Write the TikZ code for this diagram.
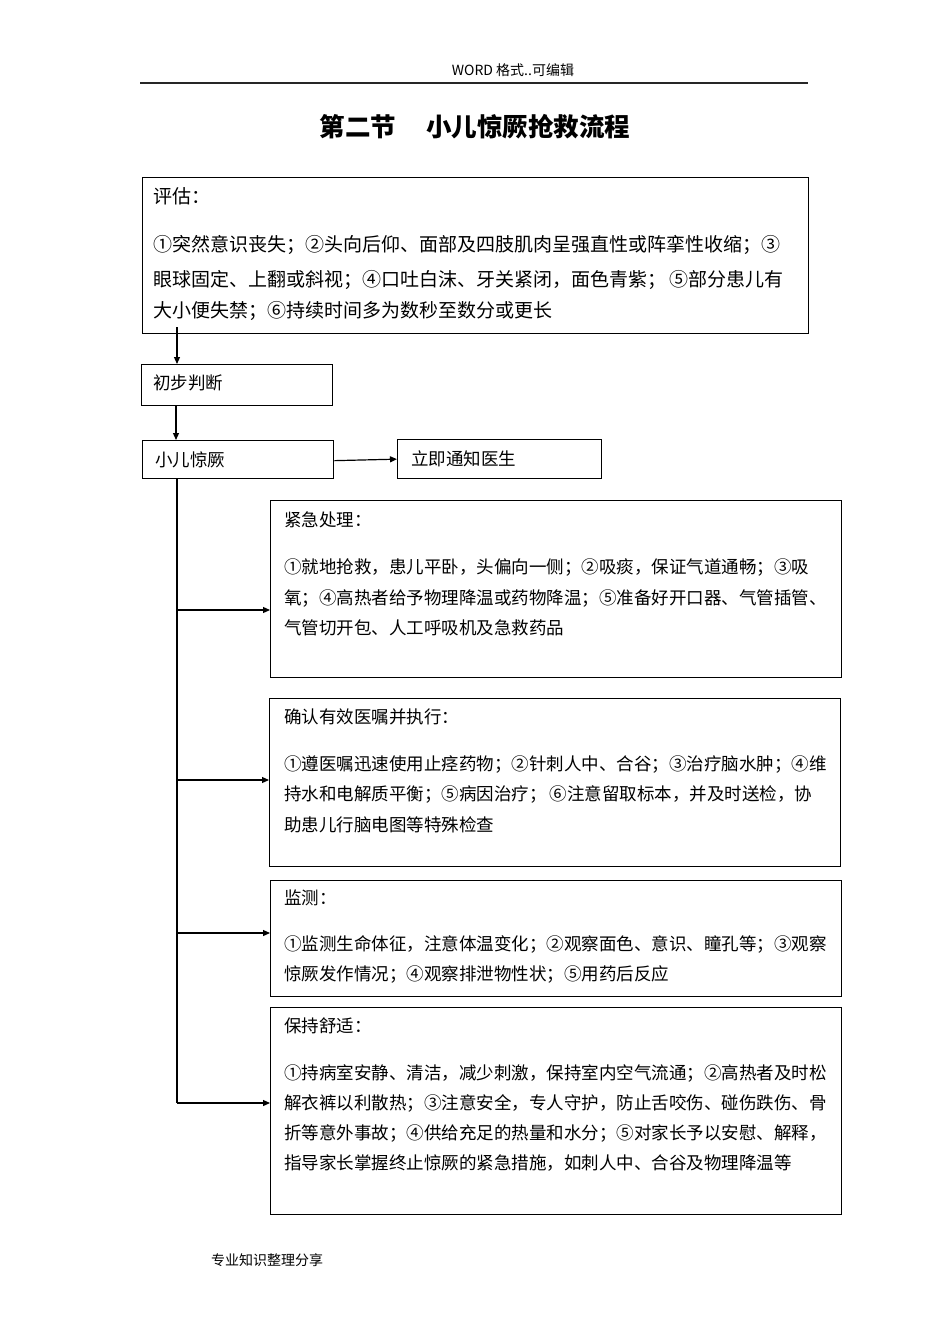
\documentclass[tikz,border=0pt]{standalone}
\usepackage{fontspec}
\setmainfont{Noto Sans CJK SC}
\usetikzlibrary{arrows.meta}
\tikzset{
  box/.style={draw=black, line width=1.3pt, inner sep=0pt, anchor=north west},
  txt/.style={anchor=west, inner sep=0pt, font=\fontsize{17.5}{20}\selectfont},
  bigtxt/.style={anchor=west, inner sep=0pt, font=\fontsize{19}{22}\selectfont},
  arr/.style={line width=1.2pt, -{Triangle[length=7pt,width=6pt]}},
  line/.style={line width=1.2pt}
}
\begin{document}
\begin{tikzpicture}[x=1pt,y=-1pt]
\useasboundingbox (0,0) rectangle (950,1344);
% header / footer
\node[inner sep=0pt, font=\fontsize{14}{16}\selectfont] (hdr) at (513,70) {WORD 格式..可编辑};
\coordinate (hl) at (140,83);
\coordinate (hr) at (808,83);
\draw[line width=1.8pt, black!85] (hl) -- (hr);
\node[inner sep=0pt, font=\fontsize{25.5}{28}\selectfont\bfseries] (title) at (475,127) {第二节\hspace{30pt}小儿惊厥抢救流程};
\node[inner sep=0pt, anchor=west, font=\fontsize{14}{16}\selectfont] (ftr) at (211,1260) {专业知识整理分享};

% boxes
\node[box, minimum width=666pt, minimum height=156pt] (assess) at (142,177) {};
\node[box, minimum width=191pt, minimum height=41pt] (judge) at (141,364) {};
\node[box, minimum width=191pt, minimum height=38pt] (seizure) at (142,440) {};
\node[box, minimum width=204pt, minimum height=39pt] (notify) at (397,439) {};
\node[box, minimum width=571pt, minimum height=177pt] (emerg) at (270,500) {};
\node[box, minimum width=571pt, minimum height=168pt] (orders) at (269,698) {};
\node[box, minimum width=571pt, minimum height=116pt] (monitor) at (270,880) {};
\node[box, minimum width=571pt, minimum height=207pt] (comfort) at (270,1007) {};

% texts: assessment
\node[bigtxt] (a0) at (153,196) {评估：};
\node[bigtxt] (a1) at (153,245) {①突然意识丧失；②头向后仰、面部及四肢肌肉呈强直性或阵挛性收缩；③};
\node[bigtxt] (a2) at (153,280) {眼球固定、上翻或斜视；④口吐白沫、牙关紧闭，面色青紫；\,⑤部分患儿有};
\node[bigtxt] (a3) at (153,311) {大小便失禁；⑥持续时间多为数秒至数分或更长};

\node[txt] (j0) at (153,383) {初步判断};
\node[txt] (s0) at (155,460) {小儿惊厥};
\node[txt] (n0) at (411,459) {立即通知医生};

% emergency
\node[txt] (e0) at (284,520) {紧急处理：};
\node[txt] (e1) at (284,567) {①就地抢救，患儿平卧，头偏向一侧；②吸痰，保证气道通畅；③吸};
\node[txt] (e2) at (284,598) {氧；④高热者给予物理降温或药物降温；⑤准备好开口器、气管插管、};
\node[txt] (e3) at (284,628) {气管切开包、人工呼吸机及急救药品};

% orders
\node[txt] (o0) at (284,717) {确认有效医嘱并执行：};
\node[txt] (o1) at (284,764) {①遵医嘱迅速使用止痉药物；②针刺人中、合谷；③治疗脑水肿；④维};
\node[txt] (o2) at (284,794) {持水和电解质平衡；⑤病因治疗；\,⑥注意留取标本，并及时送检，协};
\node[txt] (o3) at (284,825) {助患儿行脑电图等特殊检查};

% monitor
\node[txt] (m0) at (284,898) {监测：};
\node[txt] (m1) at (284,944) {①监测生命体征，注意体温变化；②观察面色、意识、瞳孔等；③观察};
\node[txt] (m2) at (284,974) {惊厥发作情况；④观察排泄物性状；⑤用药后反应};

% comfort
\node[txt] (c0) at (284,1026) {保持舒适：};
\node[txt] (c1) at (284,1073) {①持病室安静、清洁，减少刺激，保持室内空气流通；②高热者及时松};
\node[txt] (c2) at (284,1103) {解衣裤以利散热；③注意安全，专人守护，防止舌咬伤、碰伤跌伤、骨};
\node[txt] (c3) at (284,1133) {折等意外事故；④供给充足的热量和水分；⑤对家长予以安慰、解释，};
\node[txt] (c4) at (284,1163) {指导家长掌握终止惊厥的紧急措施，如刺人中、合谷及物理降温等};

% connectors
\draw[arr] ([shift={(35,-7)}]assess.south west) -- ([xshift=36]judge.north west);
\draw[arr] ([xshift=35]judge.south west) -- ([xshift=34]seizure.north west);
\draw[arr] ([yshift=-1]seizure.east) -- (notify.west);
\coordinate (t1) at (177,610);
\coordinate (t2) at (177,780);
\coordinate (t3) at (177,933);
\coordinate (t4) at (177,1103);
\draw[line] ([xshift=35]seizure.south west) -- (t4);
\draw[arr] (t1) -- (t1 -| emerg.west);
\draw[arr] (t2) -- (t2 -| orders.west);
\draw[arr] (t3) -- (t3 -| monitor.west);
\draw[arr] (t4) -- (t4 -| comfort.west);
\end{tikzpicture}
\end{document}
